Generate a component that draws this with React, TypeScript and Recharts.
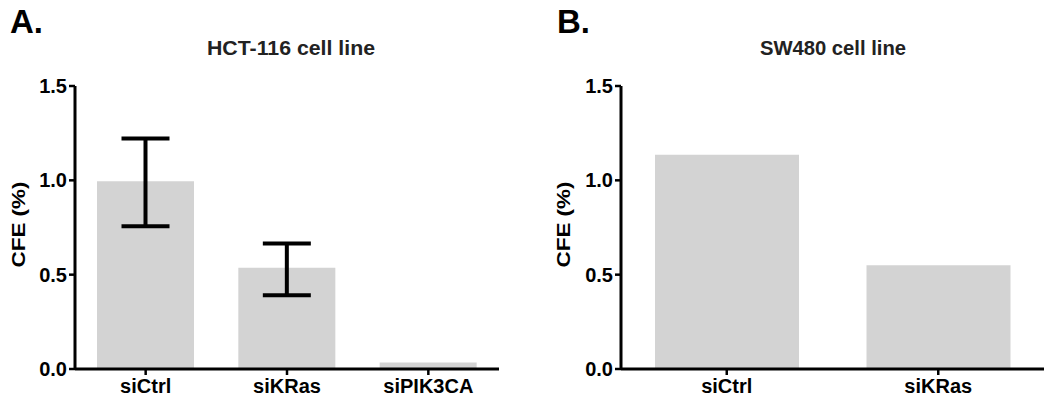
import React from 'react';
import { BarChart, Bar, XAxis, YAxis, ErrorBar } from 'recharts';

const categoriesA = ['siCtrl', 'siKRas', 'siPIK3CA'];
const meansA = [0.995, 0.536, 0.034];
const lowerA: (number | null)[] = [0.757, 0.391, null];
const upperA: (number | null)[] = [1.222, 0.665, null];

const categoriesB = ['siCtrl', 'siKRas'];
const meansB = [1.135, 0.55];

const yTicks = [0, 0.5, 1.0, 1.5];
const titles = ['HCT-116 cell line', 'SW480 cell line'];
const panelLetters = ['A.', 'B.'];
const yLabelText = 'CFE (%)';

const FONT = '"Liberation Sans", Arial, Helvetica, sans-serif';
const BAR_FILL = '#d3d3d3';

const dataA = categoriesA.map((name, i) => ({
  name,
  value: meansA[i],
  err:
    lowerA[i] == null || upperA[i] == null
      ? null
      : [meansA[i] - (lowerA[i] as number), (upperA[i] as number) - meansA[i]],
}));

const dataB = categoriesB.map((name, i) => ({ name, value: meansB[i] }));

const tickStyle = { fill: '#000', fontSize: 20, fontWeight: 700, fontFamily: FONT };
const axisLineStyle = { stroke: '#000', strokeWidth: 3 };
const tickLineStyle = { stroke: '#000', strokeWidth: 2.5 };

const makeYLabel = (offsetFromAxis: number) => (props: any) => {
  const vb = props.viewBox || {};
  const cx = (vb.x || 0) + (vb.width || 0) - offsetFromAxis;
  const cy = (vb.y || 0) + (vb.height || 0) / 2 - 3;
  return (
    <text
      x={cx}
      y={cy}
      transform={`rotate(-90 ${cx} ${cy})`}
      textAnchor="middle"
      dominantBaseline="central"
      fontSize={18}
      fontWeight={700}
      fontFamily={FONT}
      fill="#000"
      textLength={86}
      lengthAdjust="spacingAndGlyphs"
    >
      {yLabelText}
    </text>
  );
};

export default function App() {
  return (
    <div
      style={{
        position: 'absolute',
        left: 0,
        top: 0,
        width: 1044,
        height: 400,
        background: '#fff',
        fontFamily: FONT,
        overflow: 'hidden',
      }}
    >
      <div style={{ position: 'absolute', left: 0, top: 0 }}>
        <BarChart
          width={520}
          height={400}
          data={dataA}
          margin={{ top: 86, right: 21, bottom: 0, left: 0 }}
        >
          <XAxis
            dataKey="name"
            type="category"
            height={31}
            tick={tickStyle}
            axisLine={axisLineStyle}
            tickLine={tickLineStyle}
            tickSize={6}
            tickMargin={4}
          />
          <YAxis
            type="number"
            domain={[0, 1.5]}
            ticks={yTicks}
            width={75}
            tick={tickStyle}
            axisLine={axisLineStyle}
            tickLine={tickLineStyle}
            tickSize={6}
            tickMargin={2}
            tickFormatter={(v: number) => v.toFixed(1)}
            label={makeYLabel(56)}
          />
          <Bar dataKey="value" fill={BAR_FILL} barSize={97} isAnimationActive={false}>
            <ErrorBar
              dataKey="err"
              width={24}
              strokeWidth={4}
              stroke="#000"
              direction="y"
            />
          </Bar>
        </BarChart>
      </div>
      <div style={{ position: 'absolute', left: 520, top: 0 }}>
        <BarChart
          width={524}
          height={400}
          data={dataB}
          margin={{ top: 86, right: 0, bottom: 0, left: 0 }}
        >
          <XAxis
            dataKey="name"
            type="category"
            height={31}
            tick={tickStyle}
            axisLine={axisLineStyle}
            tickLine={tickLineStyle}
            tickSize={6}
            tickMargin={4}
          />
          <YAxis
            type="number"
            domain={[0, 1.5]}
            ticks={yTicks}
            width={101}
            tick={tickStyle}
            axisLine={axisLineStyle}
            tickLine={tickLineStyle}
            tickSize={6}
            tickMargin={2}
            tickFormatter={(v: number) => v.toFixed(1)}
            label={makeYLabel(57)}
          />
          <Bar dataKey="value" fill={BAR_FILL} barSize={144} isAnimationActive={false} />
        </BarChart>
      </div>
      <svg
        width={1044}
        height={400}
        style={{ position: 'absolute', left: 0, top: 0, pointerEvents: 'none' }}
      >
        <text x={10} y={33} fontSize={33} fontWeight={700} fontFamily={FONT} fill="#000">
          {panelLetters[0]}
        </text>
        <text x={557} y={33} fontSize={33} fontWeight={700} fontFamily={FONT} fill="#000">
          {panelLetters[1]}
        </text>
        <text
          x={291}
          y={55}
          textAnchor="middle"
          fontSize={20}
          fontWeight={700}
          fontFamily={FONT}
          fill="#222"
          textLength={168}
          lengthAdjust="spacingAndGlyphs"
        >
          {titles[0]}
        </text>
        <text
          x={833}
          y={55}
          textAnchor="middle"
          fontSize={20}
          fontWeight={700}
          fontFamily={FONT}
          fill="#222"
          textLength={146}
          lengthAdjust="spacingAndGlyphs"
        >
          {titles[1]}
        </text>
      </svg>
    </div>
  );
}
